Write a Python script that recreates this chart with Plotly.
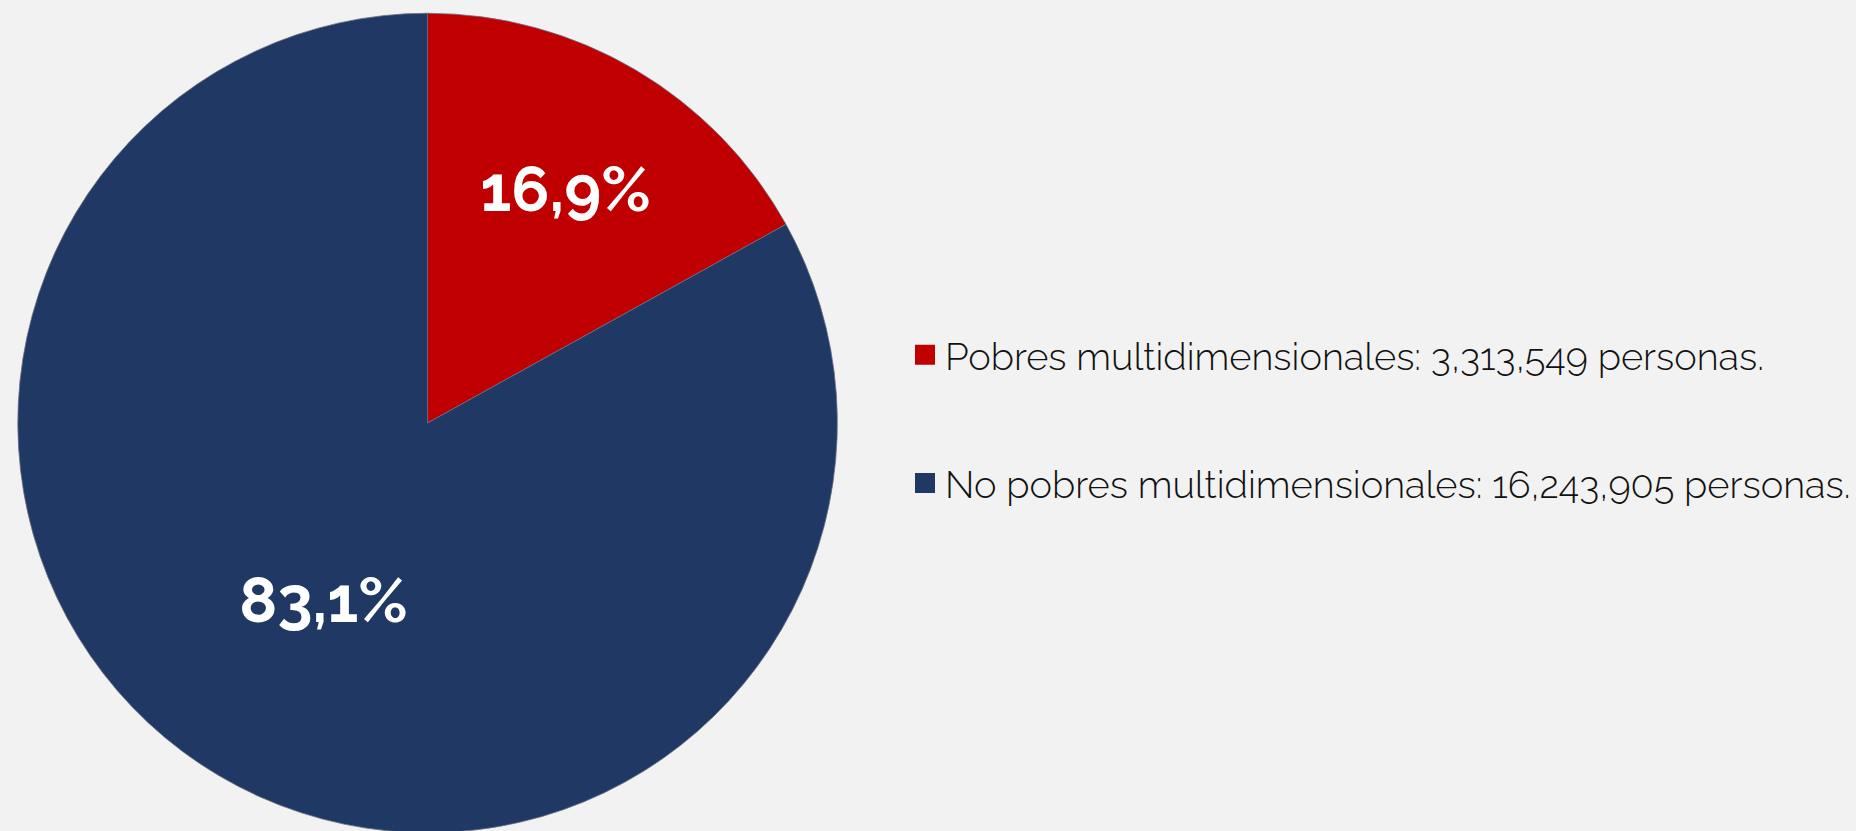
import plotly.graph_objects as go

# Data
categories = ["Pobres multidimensionales", "No pobres multidimensionales"]
personas = [3313549, 16243905]
personas_text = ["3,313,549", "16,243,905"]
colors = ["#C00000", "#1F3864"]

legend_labels = [f"{c}: {p} personas." for c, p in zip(categories, personas_text)]

W, H = 1856, 846
cx, cy, r = 432, 423, 414

fig = go.Figure()
fig.add_trace(
    go.Pie(
        labels=categories,
        values=personas,
        marker=dict(colors=colors, line=dict(color="#6b6f80", width=0.8)),
        sort=False,
        direction="clockwise",
        rotation=0,
        texttemplate="%{percent:.1%}",
        textposition="inside",
        insidetextorientation="horizontal",
        textfont=dict(family="Raleway, Lato", size=63, color="white", weight="bold"),
        hoverinfo="label+value+percent",
        showlegend=False,
        domain=dict(x=[(cx - r) / W, (cx + r) / W], y=[(H - cy - r) / H, (H - cy + r) / H]),
    )
)

# Legend entries (one per category)
for i, (lab, col) in enumerate(zip(legend_labels, colors)):
    fig.add_trace(
        go.Scatter(
            x=[None], y=[None], mode="markers",
            marker=dict(symbol="square", size=16, color=col, line=dict(width=4, color=col)),
            name=lab, legendgroup=f"g{i}", showlegend=True, hoverinfo="skip",
        )
    )

fig.update_layout(
    width=W,
    height=H,
    margin=dict(l=0, r=0, t=0, b=0),
    paper_bgcolor="#F2F2F2",
    plot_bgcolor="#F2F2F2",
    separators=",.",
    xaxis=dict(visible=False),
    yaxis=dict(visible=False),
    legend=dict(
        x=914.5 / W,
        xanchor="left",
        y=(H - 419) / H,
        yanchor="middle",
        font=dict(family="Raleway, Lato", size=38, color="#111111", weight=300),
        bgcolor="rgba(0,0,0,0)",
        traceorder="grouped",
        tracegroupgap=76,
    ),
)

fig.write_html(
    "out.html",
    config={"displayModeBar": False},
    post_script="document.body.style.margin='0';document.body.style.overflow='hidden';",
)
